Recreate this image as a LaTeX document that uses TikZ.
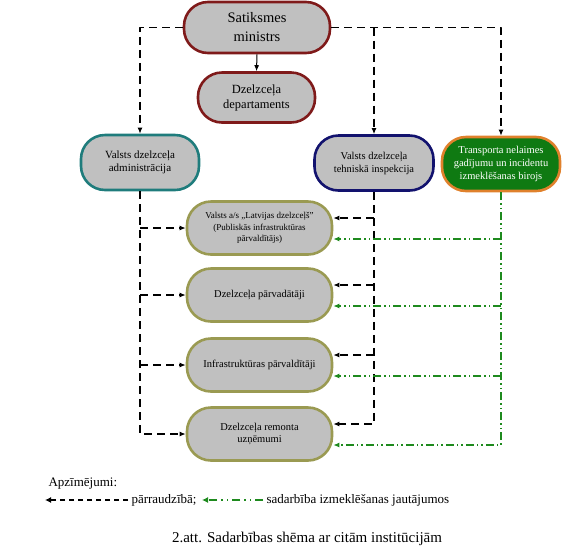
\documentclass[tikz,border=0pt]{standalone}
\usepackage{fontspec}
\setmainfont{Liberation Serif}
\usetikzlibrary{arrows.meta}

\definecolor{boxgray}{HTML}{C0C0C0}
\definecolor{minred}{HTML}{7F1A1A}
\definecolor{admteal}{HTML}{1F7C7C}
\definecolor{inspnavy}{HTML}{12126E}
\definecolor{trbgreen}{HTML}{0F7A12}
\definecolor{trborange}{HTML}{E0812C}
\definecolor{subolive}{HTML}{9A9A52}
\definecolor{coopgreen}{HTML}{1E8A1E}

\begin{document}
\begin{tikzpicture}[
  x=1pt,
  y=-1pt,
  line join=round,
  unit/.style={rectangle,rounded corners=24pt,fill=boxgray,line width=2.6pt,
    align=center,inner sep=1pt},
  topunit/.style={unit,draw=minred},
  admunit/.style={unit,draw=admteal,font=\fontsize{11}{13}\selectfont},
  inspunit/.style={unit,draw=inspnavy,font=\fontsize{10.5}{13}\selectfont},
  trbunit/.style={unit,draw=trborange,fill=trbgreen,text=white,
    font=\fontsize{10.5}{13}\selectfont},
  subunit/.style={unit,draw=subolive,minimum width=145,minimum height=53,
    font=\fontsize{10.5}{12}\selectfont},
  ctrl/.style={draw=black,line width=1.8pt,dash pattern=on 8pt off 5pt,
    -{Latex[length=6pt,width=5pt]}},
  coop/.style={draw=coopgreen,line width=1.8pt,
    dash pattern=on 8pt off 3pt on 1.5pt off 3pt on 1.5pt off 3pt,
    -{Latex[length=6pt,width=5pt]}},
  keytext/.style={anchor=west,font=\fontsize{13}{15}\selectfont}
]
  % Keep the page the size of the original figure.
  \useasboundingbox (0,0) rectangle (567,550);

  % Ministry and the units directly under it.
  \node[topunit,minimum width=146,minimum height=51,
    font=\fontsize{14.5}{19}\selectfont] (min) at (257,27.5) {Satiksmes\\ministrs};
  \node[topunit,minimum width=117,minimum height=50,
    font=\fontsize{12.5}{15}\selectfont] (dep) at (256.5,97.5) {Dzelzceļa\\departaments};
  \node[admunit,minimum width=118,minimum height=55] (adm) at (140,162.5)
    {Valsts dzelzceļa\\administrācija};
  \node[inspunit,minimum width=119,minimum height=55] (insp) at (374,163)
    {Valsts dzelzceļa\\tehniskā inspekcija};
  \node[trbunit,minimum width=118,minimum height=54] (trb) at (501,164)
    {Transporta nelaimes\\gadījumu un incidentu\\izmeklēšanas birojs};

  % Supervised parties.
  \node[subunit,font=\fontsize{9}{11.5}\selectfont] (lrail) at (259.5,228)
    {Valsts a/s „Latvijas dzelzceļš"\\(Publiskās infrastruktūras\\pārvaldītājs)};
  \node[subunit] (carrier) at (259.5,295) {Dzelzceļa pārvadātāji};
  \node[subunit] (infra) at (259.5,365) {Infrastruktūras pārvaldītāji};
  \node[subunit] (repair) at (259.5,434) {Dzelzceļa remonta\\uzņēmumi};

  % Entry points on the right side of each supervised party.
  \foreach \u in {lrail,carrier,infra,repair} {
    \coordinate (\u-ctrl) at ([yshift=10pt]\u.east);
    \coordinate (\u-coop) at ([yshift=-11pt]\u.east);
  }

  % Ministry links.
  \draw[line width=1pt,-{Latex[length=6pt,width=5pt]}] (min.south) -- (dep.north);
  \draw[ctrl] (min.west) -| (adm.north);
  \draw[ctrl] (min.east) -| (trb.north);
  \draw[ctrl] (insp.north |- min.east) -- (insp.north);

  % Administration bus on the left.
  \draw[ctrl] (adm.south) |- (repair.west);
  \foreach \u in {lrail,carrier,infra} {
    \draw[ctrl] (adm.south |- \u.west) -- (\u.west);
  }

  % Inspection bus on the right.
  \draw[ctrl] (insp.south) |- (repair-ctrl);
  \foreach \u in {lrail,carrier,infra} {
    \draw[ctrl] (insp.south |- \u-ctrl) -- (\u-ctrl);
  }

  % Investigation bureau, dash-dot-dot in green.
  \draw[coop] (trb.south) |- (repair-coop);
  \foreach \u in {lrail,carrier,infra} {
    \draw[coop] (trb.south |- \u-coop) -- (\u-coop);
  }

  % Legend and caption.
  \node[keytext,anchor=base west] (keyhead) at (45,486) {Apzīmējumi:};
  \node[keytext] (ctrlkey) at (128,500) {pārraudzībā;};
  \node[keytext] (coopkey) at (263,500) {sadarbība izmeklēšanas jautājumos};
  \coordinate (ctrlkey-end) at (45,500);
  \coordinate (coopkey-end) at (202,500);
  \draw[line width=1.8pt,dash pattern=on 5pt off 4pt,
    -{Latex[length=6pt,width=6pt]}] (ctrlkey.west) -- (ctrlkey-end);
  \draw[draw=coopgreen,line width=1.8pt,
    dash pattern=on 8pt off 4pt on 1.5pt off 4pt on 1.5pt off 4pt,
    -{Latex[length=6pt,width=6pt]}] (coopkey.west) -- (coopkey-end);
  \node[font=\fontsize{15}{17}\selectfont] (caption) at (307,539)
    {2.att. Sadarbības shēma ar citām institūcijām};
\end{tikzpicture}
\end{document}
